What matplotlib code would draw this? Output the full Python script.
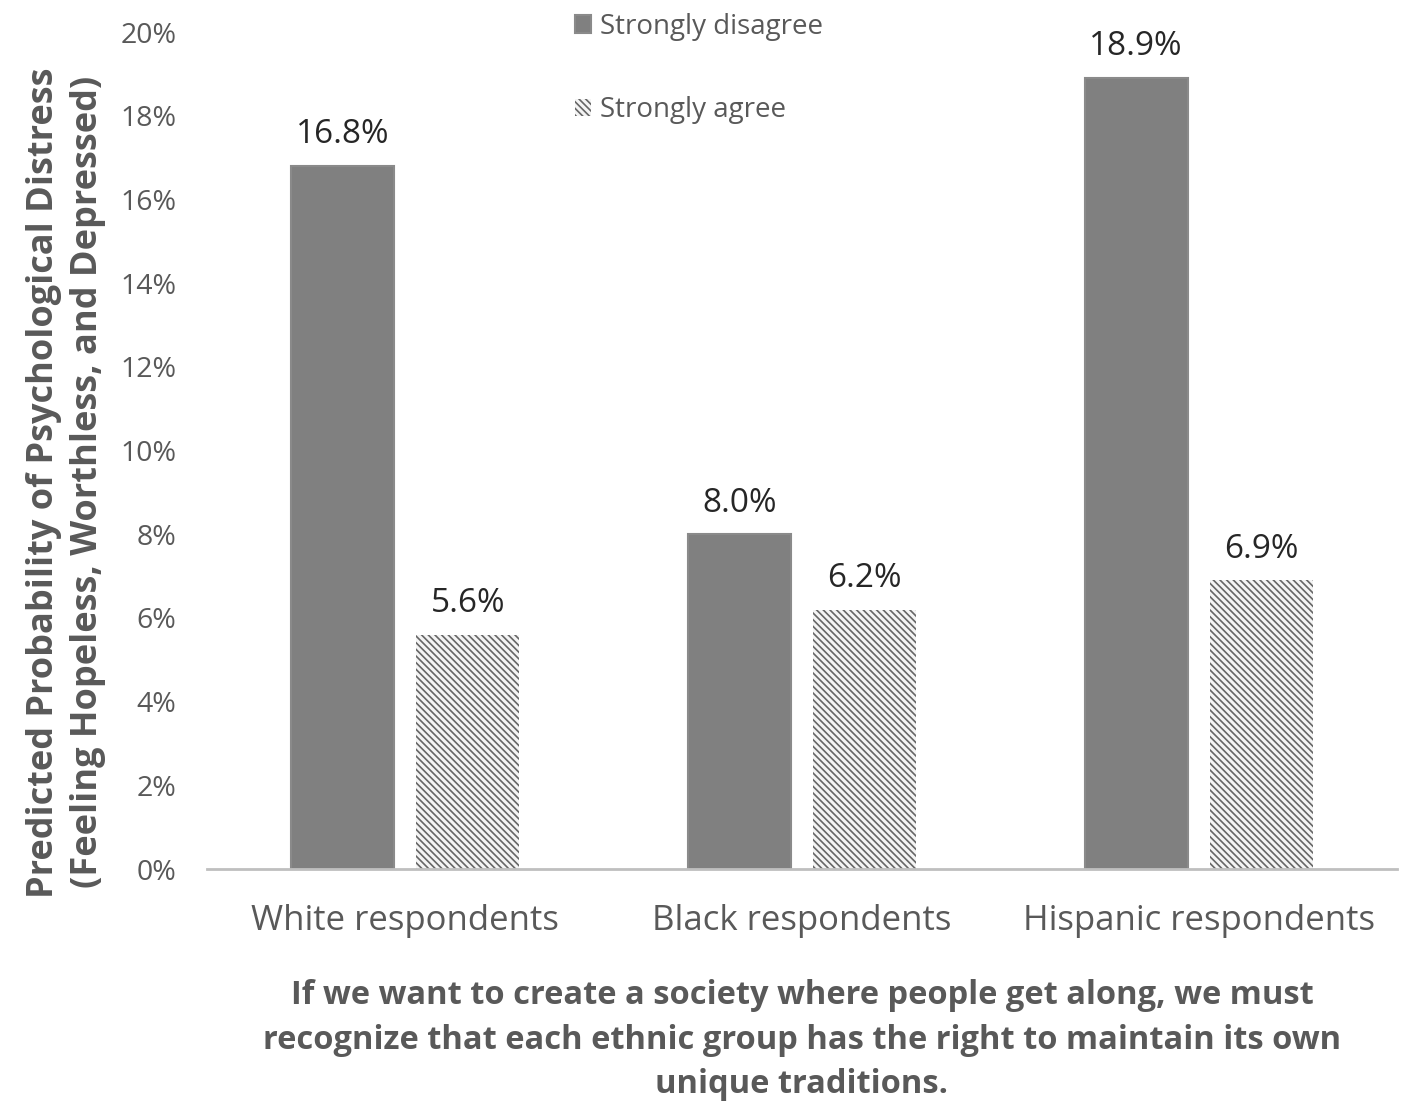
import matplotlib
matplotlib.use("Agg")
import matplotlib.pyplot as plt
import numpy as np

categories = ["White respondents", "Black respondents", "Hispanic respondents"]
strongly_disagree = [16.8, 8.0, 18.9]
strongly_agree = [5.6, 6.2, 6.9]
series_names = ["Strongly disagree", "Strongly agree"]
yticks = [0, 2, 4, 6, 8, 10, 12, 14, 16, 18, 20]

plt.rcParams['font.family'] = ['Open Sans', 'DejaVu Sans']
plt.rcParams['hatch.linewidth'] = 1.2

txt = '#595959'
fig = plt.figure(figsize=(14.03, 11.01), dpi=100)
ax = fig.add_axes([0.1475, 0.2107, 0.8482, 0.7602])

x = np.arange(len(categories))
w = 0.26
off = 0.1575
b1 = ax.bar(x - off, strongly_disagree, w, color='#808080', edgecolor='#8a8a8a', linewidth=1.5,
            label=series_names[0])
b2 = ax.bar(x + off, strongly_agree, w, color='#f4f4f4', edgecolor='#666666', linewidth=0,
            hatch='\\\\\\\\\\', label=series_names[1])

for bars, vals in ((b1, strongly_disagree), (b2, strongly_agree)):
    for r, v in zip(bars, vals):
        ax.text(r.get_x() + r.get_width() / 2, v + 0.35, f"{v:.1f}%", ha='center', va='bottom',
                fontsize=24, color='#262626')

ax.set_xlim(-0.5, 2.5)
ax.set_ylim(0, 20)
ax.set_yticks(yticks)
ax.set_yticklabels([f"{t}%" for t in yticks], fontsize=20.5, color=txt)
ax.set_xticks(x)
ax.set_xticklabels(categories, fontsize=25, color=txt)
ax.tick_params(axis='both', length=0)
ax.tick_params(axis='y', pad=22)
ax.tick_params(axis='x', pad=25)
for s in ('top', 'right', 'left'):
    ax.spines[s].set_visible(False)
ax.spines['bottom'].set_color('#bfbfbf')
ax.spines['bottom'].set_linewidth(2)

ax.set_ylabel("Predicted Probability of Psychological Distress\n(Feeling Hopeless, Worthless, and Depressed)",
              fontsize=26, fontweight='bold', color=txt, linespacing=1.3)
ax.yaxis.set_label_coords(-0.085, 0.462)
ax.set_xlabel("If we want to create a society where people get along, we must\n"
              "recognize that each ethnic group has the right to maintain its own\n"
              "unique traditions.", fontsize=23.5, fontweight='bold', color=txt, labelpad=30,
              linespacing=1.45)

leg = ax.legend(loc='upper left', bbox_to_anchor=(0.288, 1.053), frameon=False, fontsize=20,
                handlelength=0.6, handleheight=0.6, handletextpad=0.3, labelspacing=2.0)
for t in leg.get_texts():
    t.set_color(txt)

fig.savefig("out.png", dpi=100)
